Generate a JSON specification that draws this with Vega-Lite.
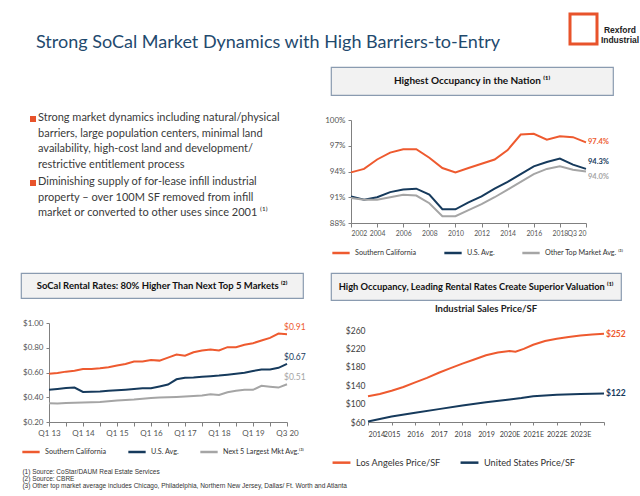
{
  "$schema": "https://vega.github.io/schema/vega-lite/v6.json",
  "background": "white",
  "padding": {"left": 20, "top": 12, "right": 0, "bottom": 0},
  "config": {
    "font": "Lato",
    "view": {"stroke": null},
    "axis": {"labelFont": "Lato", "labelColor": "#555555", "labelFontSize": 8, "domainColor": "#808080", "tickColor": "#808080", "grid": false, "title": null, "tickSize": 3, "labelPadding": 3, "labelOverlap": false},
    "legend": {"orient": "bottom", "direction": "horizontal", "title": null, "symbolType": "stroke", "symbolSize": 300, "symbolStrokeWidth": 2.5, "labelFontSize": 7.2, "labelColor": "#333333", "columnPadding": 16, "labelFont": "Lato"},
    "title": {"font": "Lato"}
  },
  "datasets": {
    "occ": [
      {"year": 2002, "series": "Southern California", "value": 93.9},
      {"year": 2003, "series": "Southern California", "value": 94.3},
      {"year": 2004, "series": "Southern California", "value": 95.4},
      {"year": 2005, "series": "Southern California", "value": 96.2},
      {"year": 2006, "series": "Southern California", "value": 96.6},
      {"year": 2007, "series": "Southern California", "value": 96.6},
      {"year": 2008, "series": "Southern California", "value": 95.6},
      {"year": 2009, "series": "Southern California", "value": 94.4},
      {"year": 2010, "series": "Southern California", "value": 93.9},
      {"year": 2011, "series": "Southern California", "value": 94.4},
      {"year": 2012, "series": "Southern California", "value": 94.9},
      {"year": 2013, "series": "Southern California", "value": 95.4},
      {"year": 2014, "series": "Southern California", "value": 96.5},
      {"year": 2015, "series": "Southern California", "value": 98.3},
      {"year": 2016, "series": "Southern California", "value": 98.4},
      {"year": 2017, "series": "Southern California", "value": 97.7},
      {"year": 2018, "series": "Southern California", "value": 98.1},
      {"year": 2019, "series": "Southern California", "value": 98.0},
      {"year": 2020, "series": "Southern California", "value": 97.4},
      {"year": 2002, "series": "U.S. Avg.", "value": 91.1},
      {"year": 2003, "series": "U.S. Avg.", "value": 90.7},
      {"year": 2004, "series": "U.S. Avg.", "value": 91.0},
      {"year": 2005, "series": "U.S. Avg.", "value": 91.6},
      {"year": 2006, "series": "U.S. Avg.", "value": 91.9},
      {"year": 2007, "series": "U.S. Avg.", "value": 92.0},
      {"year": 2008, "series": "U.S. Avg.", "value": 91.3},
      {"year": 2009, "series": "U.S. Avg.", "value": 89.6},
      {"year": 2010, "series": "U.S. Avg.", "value": 89.6},
      {"year": 2011, "series": "U.S. Avg.", "value": 90.4},
      {"year": 2012, "series": "U.S. Avg.", "value": 91.1},
      {"year": 2013, "series": "U.S. Avg.", "value": 92.0},
      {"year": 2014, "series": "U.S. Avg.", "value": 92.8},
      {"year": 2015, "series": "U.S. Avg.", "value": 93.7},
      {"year": 2016, "series": "U.S. Avg.", "value": 94.6},
      {"year": 2017, "series": "U.S. Avg.", "value": 95.1},
      {"year": 2018, "series": "U.S. Avg.", "value": 95.5},
      {"year": 2019, "series": "U.S. Avg.", "value": 94.8},
      {"year": 2020, "series": "U.S. Avg.", "value": 94.3},
      {"year": 2002, "series": "Other Top Market Avg.", "value": 90.9},
      {"year": 2003, "series": "Other Top Market Avg.", "value": 90.7},
      {"year": 2004, "series": "Other Top Market Avg.", "value": 90.7},
      {"year": 2005, "series": "Other Top Market Avg.", "value": 91.0},
      {"year": 2006, "series": "Other Top Market Avg.", "value": 91.3},
      {"year": 2007, "series": "Other Top Market Avg.", "value": 91.2},
      {"year": 2008, "series": "Other Top Market Avg.", "value": 90.3},
      {"year": 2009, "series": "Other Top Market Avg.", "value": 88.8},
      {"year": 2010, "series": "Other Top Market Avg.", "value": 88.8},
      {"year": 2011, "series": "Other Top Market Avg.", "value": 89.5},
      {"year": 2012, "series": "Other Top Market Avg.", "value": 90.2},
      {"year": 2013, "series": "Other Top Market Avg.", "value": 91.0},
      {"year": 2014, "series": "Other Top Market Avg.", "value": 91.9},
      {"year": 2015, "series": "Other Top Market Avg.", "value": 92.8},
      {"year": 2016, "series": "Other Top Market Avg.", "value": 93.7},
      {"year": 2017, "series": "Other Top Market Avg.", "value": 94.3},
      {"year": 2018, "series": "Other Top Market Avg.", "value": 94.6},
      {"year": 2019, "series": "Other Top Market Avg.", "value": 94.2},
      {"year": 2020, "series": "Other Top Market Avg.", "value": 94.0}
    ],
    "rent": [
      {"period": "Q1 13", "series": "Southern California", "value": 0.59},
      {"period": "Q2 13", "series": "Southern California", "value": 0.596},
      {"period": "Q3 13", "series": "Southern California", "value": 0.607},
      {"period": "Q4 13", "series": "Southern California", "value": 0.615},
      {"period": "Q1 14", "series": "Southern California", "value": 0.628},
      {"period": "Q2 14", "series": "Southern California", "value": 0.628},
      {"period": "Q3 14", "series": "Southern California", "value": 0.634},
      {"period": "Q4 14", "series": "Southern California", "value": 0.642},
      {"period": "Q1 15", "series": "Southern California", "value": 0.656},
      {"period": "Q2 15", "series": "Southern California", "value": 0.669},
      {"period": "Q3 15", "series": "Southern California", "value": 0.688},
      {"period": "Q4 15", "series": "Southern California", "value": 0.688},
      {"period": "Q1 16", "series": "Southern California", "value": 0.70},
      {"period": "Q2 16", "series": "Southern California", "value": 0.696},
      {"period": "Q3 16", "series": "Southern California", "value": 0.72},
      {"period": "Q4 16", "series": "Southern California", "value": 0.745},
      {"period": "Q1 17", "series": "Southern California", "value": 0.735},
      {"period": "Q2 17", "series": "Southern California", "value": 0.764},
      {"period": "Q3 17", "series": "Southern California", "value": 0.778},
      {"period": "Q4 17", "series": "Southern California", "value": 0.786},
      {"period": "Q1 18", "series": "Southern California", "value": 0.778},
      {"period": "Q2 18", "series": "Southern California", "value": 0.805},
      {"period": "Q3 18", "series": "Southern California", "value": 0.805},
      {"period": "Q4 18", "series": "Southern California", "value": 0.824},
      {"period": "Q1 19", "series": "Southern California", "value": 0.837},
      {"period": "Q2 19", "series": "Southern California", "value": 0.859},
      {"period": "Q4 19", "series": "Southern California", "value": 0.88},
      {"period": "Q2 20", "series": "Southern California", "value": 0.915},
      {"period": "Q3 20", "series": "Southern California", "value": 0.91},
      {"period": "Q1 13", "series": "U.S. Avg.", "value": 0.46},
      {"period": "Q2 13", "series": "U.S. Avg.", "value": 0.467},
      {"period": "Q3 13", "series": "U.S. Avg.", "value": 0.475},
      {"period": "Q4 13", "series": "U.S. Avg.", "value": 0.478},
      {"period": "Q1 14", "series": "U.S. Avg.", "value": 0.443},
      {"period": "Q2 14", "series": "U.S. Avg.", "value": 0.445},
      {"period": "Q3 14", "series": "U.S. Avg.", "value": 0.447},
      {"period": "Q4 14", "series": "U.S. Avg.", "value": 0.452},
      {"period": "Q1 15", "series": "U.S. Avg.", "value": 0.456},
      {"period": "Q2 15", "series": "U.S. Avg.", "value": 0.461},
      {"period": "Q3 15", "series": "U.S. Avg.", "value": 0.466},
      {"period": "Q4 15", "series": "U.S. Avg.", "value": 0.472},
      {"period": "Q1 16", "series": "U.S. Avg.", "value": 0.472},
      {"period": "Q2 16", "series": "U.S. Avg.", "value": 0.487},
      {"period": "Q3 16", "series": "U.S. Avg.", "value": 0.503},
      {"period": "Q4 16", "series": "U.S. Avg.", "value": 0.545},
      {"period": "Q1 17", "series": "U.S. Avg.", "value": 0.557},
      {"period": "Q2 17", "series": "U.S. Avg.", "value": 0.56},
      {"period": "Q3 17", "series": "U.S. Avg.", "value": 0.565},
      {"period": "Q4 17", "series": "U.S. Avg.", "value": 0.57},
      {"period": "Q1 18", "series": "U.S. Avg.", "value": 0.575},
      {"period": "Q2 18", "series": "U.S. Avg.", "value": 0.582},
      {"period": "Q3 18", "series": "U.S. Avg.", "value": 0.59},
      {"period": "Q4 18", "series": "U.S. Avg.", "value": 0.598},
      {"period": "Q1 19", "series": "U.S. Avg.", "value": 0.612},
      {"period": "Q2 19", "series": "U.S. Avg.", "value": 0.625},
      {"period": "Q4 19", "series": "U.S. Avg.", "value": 0.625},
      {"period": "Q2 20", "series": "U.S. Avg.", "value": 0.638},
      {"period": "Q3 20", "series": "U.S. Avg.", "value": 0.67},
      {"period": "Q1 13", "series": "Next 5 Largest Mkt Avg.", "value": 0.352},
      {"period": "Q2 13", "series": "Next 5 Largest Mkt Avg.", "value": 0.35},
      {"period": "Q3 13", "series": "Next 5 Largest Mkt Avg.", "value": 0.353},
      {"period": "Q4 13", "series": "Next 5 Largest Mkt Avg.", "value": 0.356},
      {"period": "Q1 14", "series": "Next 5 Largest Mkt Avg.", "value": 0.358},
      {"period": "Q2 14", "series": "Next 5 Largest Mkt Avg.", "value": 0.36},
      {"period": "Q3 14", "series": "Next 5 Largest Mkt Avg.", "value": 0.362},
      {"period": "Q4 14", "series": "Next 5 Largest Mkt Avg.", "value": 0.368},
      {"period": "Q1 15", "series": "Next 5 Largest Mkt Avg.", "value": 0.374},
      {"period": "Q2 15", "series": "Next 5 Largest Mkt Avg.", "value": 0.378},
      {"period": "Q3 15", "series": "Next 5 Largest Mkt Avg.", "value": 0.382},
      {"period": "Q4 15", "series": "Next 5 Largest Mkt Avg.", "value": 0.388},
      {"period": "Q1 16", "series": "Next 5 Largest Mkt Avg.", "value": 0.393},
      {"period": "Q2 16", "series": "Next 5 Largest Mkt Avg.", "value": 0.397},
      {"period": "Q3 16", "series": "Next 5 Largest Mkt Avg.", "value": 0.40},
      {"period": "Q4 16", "series": "Next 5 Largest Mkt Avg.", "value": 0.403},
      {"period": "Q1 17", "series": "Next 5 Largest Mkt Avg.", "value": 0.406},
      {"period": "Q2 17", "series": "Next 5 Largest Mkt Avg.", "value": 0.41},
      {"period": "Q3 17", "series": "Next 5 Largest Mkt Avg.", "value": 0.415},
      {"period": "Q4 17", "series": "Next 5 Largest Mkt Avg.", "value": 0.425},
      {"period": "Q1 18", "series": "Next 5 Largest Mkt Avg.", "value": 0.418},
      {"period": "Q2 18", "series": "Next 5 Largest Mkt Avg.", "value": 0.44},
      {"period": "Q3 18", "series": "Next 5 Largest Mkt Avg.", "value": 0.452},
      {"period": "Q4 18", "series": "Next 5 Largest Mkt Avg.", "value": 0.46},
      {"period": "Q1 19", "series": "Next 5 Largest Mkt Avg.", "value": 0.46},
      {"period": "Q2 19", "series": "Next 5 Largest Mkt Avg.", "value": 0.492},
      {"period": "Q4 19", "series": "Next 5 Largest Mkt Avg.", "value": 0.485},
      {"period": "Q2 20", "series": "Next 5 Largest Mkt Avg.", "value": 0.478},
      {"period": "Q3 20", "series": "Next 5 Largest Mkt Avg.", "value": 0.505}
    ],
    "sales": [
      {"year": 2014, "series": "Los Angeles Price/SF", "value": 116},
      {"year": 2014.5, "series": "Los Angeles Price/SF", "value": 121},
      {"year": 2015, "series": "Los Angeles Price/SF", "value": 128},
      {"year": 2015.5, "series": "Los Angeles Price/SF", "value": 136},
      {"year": 2016, "series": "Los Angeles Price/SF", "value": 146},
      {"year": 2016.5, "series": "Los Angeles Price/SF", "value": 156},
      {"year": 2017, "series": "Los Angeles Price/SF", "value": 167},
      {"year": 2017.5, "series": "Los Angeles Price/SF", "value": 177},
      {"year": 2018, "series": "Los Angeles Price/SF", "value": 187},
      {"year": 2018.5, "series": "Los Angeles Price/SF", "value": 196},
      {"year": 2019, "series": "Los Angeles Price/SF", "value": 205},
      {"year": 2019.5, "series": "Los Angeles Price/SF", "value": 211},
      {"year": 2020, "series": "Los Angeles Price/SF", "value": 214.5},
      {"year": 2020.25, "series": "Los Angeles Price/SF", "value": 213},
      {"year": 2020.6, "series": "Los Angeles Price/SF", "value": 219},
      {"year": 2021, "series": "Los Angeles Price/SF", "value": 228},
      {"year": 2021.5, "series": "Los Angeles Price/SF", "value": 236},
      {"year": 2022, "series": "Los Angeles Price/SF", "value": 241},
      {"year": 2022.5, "series": "Los Angeles Price/SF", "value": 245},
      {"year": 2023, "series": "Los Angeles Price/SF", "value": 248},
      {"year": 2023.5, "series": "Los Angeles Price/SF", "value": 250},
      {"year": 2024, "series": "Los Angeles Price/SF", "value": 252},
      {"year": 2014, "series": "United States Price/SF", "value": 61},
      {"year": 2015, "series": "United States Price/SF", "value": 72},
      {"year": 2016, "series": "United States Price/SF", "value": 80},
      {"year": 2017, "series": "United States Price/SF", "value": 88},
      {"year": 2018, "series": "United States Price/SF", "value": 96},
      {"year": 2019, "series": "United States Price/SF", "value": 103},
      {"year": 2020, "series": "United States Price/SF", "value": 109},
      {"year": 2020.5, "series": "United States Price/SF", "value": 112},
      {"year": 2021, "series": "United States Price/SF", "value": 116},
      {"year": 2022, "series": "United States Price/SF", "value": 119.5},
      {"year": 2023, "series": "United States Price/SF", "value": 121},
      {"year": 2024, "series": "United States Price/SF", "value": 122}
    ],
    "bullets": [
      {"para": 1, "text": "Strong market dynamics including natural/physical\nbarriers, large population centers, minimal land\navailability, high-cost land and development/\nrestrictive entitlement process"},
      {"para": 2, "text": "Diminishing supply of for-lease infill industrial\nproperty – over 100M SF removed from infill\nmarket or converted to other uses since 2001 ⁽¹⁾"}
    ]
  },
  "spacing": 14,
  "resolve": {"scale": {"color": "independent"}, "legend": {"color": "independent"}},
  "vconcat": [
    {
      "spacing": 0,
      "hconcat": [
        {
          "width": 547, "height": 18,
          "title": {"text": "Strong SoCal Market Dynamics with High Barriers-to-Entry", "orient": "bottom", "anchor": "start", "dx": 15, "fontSize": 18, "fontWeight": "normal", "color": "#1F4A6E", "offset": 2},
          "data": {"values": []},
          "mark": {"type": "rule"},
          "encoding": {}
        },
        {
          "width": 27, "height": 30,
          "view": {"stroke": "#E8532B", "strokeWidth": 3},
          "data": {"values": []},
          "mark": {"type": "rule"},
          "encoding": {}
        },
        {
          "width": 42, "height": 31,
          "data": {"values": [{"t": "Rexford\nIndustrial"}]},
          "mark": {"type": "text", "lineBreak": "\n", "lineHeight": 10, "fontSize": 8.5, "fontWeight": "bold", "font": "Liberation Sans Narrow, Liberation Sans", "color": "#222222"},
          "encoding": {"text": {"field": "t"}}
        }
      ]
    },
    {
      "spacing": 13,
      "resolve": {"scale": {"color": "independent"}, "legend": {"color": "independent"}},
      "hconcat": [
        {
          "width": 290, "height": 154,
          "data": {"name": "bullets"},
          "encoding": {"y": {"field": "para", "type": "ordinal", "axis": null, "scale": {"type": "point", "padding": 0.703}}},
          "layer": [
            {
              "mark": {"type": "square", "size": 36, "color": "#E8532B", "opacity": 1, "filled": true, "yOffset": 7},
              "encoding": {"x": {"value": 12}}
            },
            {
              "mark": {"type": "text", "align": "left", "baseline": "top", "lineBreak": "\n", "lineHeight": 15.7, "fontSize": 11, "color": "#3A3A3A", "font": "Lato"},
              "encoding": {"x": {"value": 17}, "text": {"field": "text"}}
            }
          ]
        },
        {
          "spacing": 20,
          "resolve": {"scale": {"color": "independent"}, "legend": {"color": "independent"}},
          "vconcat": [
            {
              "width": 282, "height": 28,
              "view": {"fill": "#F2F2F2", "stroke": "#8A9BB0", "strokeWidth": 1.2},
              "data": {"values": [{"t": "Highest Occupancy in the Nation ⁽¹⁾"}]},
              "mark": {"type": "text", "fontWeight": "bold", "fontSize": 10, "color": "#111111"},
              "encoding": {"text": {"field": "t"}}
            },
            {
              "spacing": -8,
              "hconcat": [
                {"width": 1, "height": 1, "data": {"values": []}, "mark": {"type": "rule"}, "encoding": {}},
                {
                  "width": 235, "height": 103,
                  "data": {"name": "occ"},
                  "transform": [{"calculate": "format(datum.value, '.1f') + '%'", "as": "label"}],
                  "encoding": {
                    "x": {"field": "year", "type": "quantitative", "scale": {"domain": [2002, 2020], "nice": false}, "axis": {"values": [2002, 2004, 2006, 2008, 2010, 2012, 2014, 2016, 2018, 2020], "labelExpr": "datum.value == 2020 ? 'Q3 20' : '' + datum.value", "tickSize": 4, "labelFontSize": 6.8}},
                    "y": {"field": "value", "type": "quantitative", "scale": {"domain": [88, 100], "nice": false, "zero": false}, "axis": {"values": [88, 91, 94, 97, 100], "labelExpr": "datum.value + '%'"}},
                    "color": {"field": "series", "type": "nominal", "scale": {"domain": ["Southern California", "U.S. Avg.", "Other Top Market Avg."], "range": ["#EE5A2F", "#163A5C", "#A5A5A5"]}, "legend": {"labelExpr": "datum.label == 'Other Top Market Avg.' ? datum.label + ' ⁽³⁾' : datum.label", "offset": 6, "columnPadding": 22}}
                  },
                  "layer": [
                    {"mark": {"type": "line", "strokeWidth": 2}},
                    {"transform": [{"filter": "datum.year == 2020 && datum.series == 'Southern California'"}], "mark": {"type": "text", "align": "left", "dx": 2, "fontSize": 7.5, "fontWeight": "bold"}, "encoding": {"text": {"field": "label"}}},
                    {"transform": [{"filter": "datum.year == 2020 && datum.series == 'U.S. Avg.'"}], "mark": {"type": "text", "align": "left", "dx": 2, "dy": -7, "fontSize": 7.5, "fontWeight": "bold"}, "encoding": {"text": {"field": "label"}}},
                    {"transform": [{"filter": "datum.year == 2020 && datum.series == 'Other Top Market Avg.'"}], "mark": {"type": "text", "align": "left", "dx": 2, "dy": 5, "fontSize": 7.5, "fontWeight": "bold"}, "encoding": {"text": {"field": "label"}}}
                  ]
                }
              ]
            }
          ]
        }
      ]
    },
    {
      "spacing": 24,
      "title": {"text": ["(1)    Source: CoStar/DAUM Real Estate Services", "(2)    Source: CBRE", "(3)    Other top market average includes Chicago, Philadelphia, Northern New Jersey, Dallas/ Ft. Worth and Atlanta"], "orient": "bottom", "anchor": "start", "frame": "bounds", "fontSize": 6.5, "fontWeight": "normal", "font": "Liberation Sans", "color": "#333333", "lineHeight": 7, "offset": 1, "dx": 2},
      "resolve": {"scale": {"color": "independent"}, "legend": {"color": "independent"}},
      "hconcat": [
        {
          "spacing": 20,
          "resolve": {"scale": {"color": "independent"}, "legend": {"color": "independent"}},
          "vconcat": [
            {
              "width": 282, "height": 25,
              "view": {"fill": "#F2F2F2", "stroke": "#8A9BB0", "strokeWidth": 1.2},
              "data": {"values": [{"t": "SoCal Rental Rates: 80% Higher Than Next Top 5 Markets ⁽²⁾"}]},
              "mark": {"type": "text", "fontWeight": "bold", "fontSize": 9.5, "color": "#111111"},
              "encoding": {"text": {"field": "t"}}
            },
            {
              "spacing": 0,
              "hconcat": [
                {"width": 1, "height": 1, "data": {"values": []}, "mark": {"type": "rule"}, "encoding": {}},
                {
                  "width": 238, "height": 99,
                  "data": {"name": "rent"},
                  "encoding": {
                    "x": {"field": "period", "type": "ordinal", "sort": null, "scale": {"type": "point", "padding": 0}, "axis": {"values": ["Q1 13", "Q3 13", "Q1 14", "Q3 14", "Q1 15", "Q3 15", "Q1 16", "Q3 16", "Q1 17", "Q3 17", "Q1 18", "Q3 18", "Q1 19", "Q4 19", "Q3 20"], "labelExpr": "(slice(datum.value, 0, 2) == 'Q1' || datum.value == 'Q3 20') ? datum.value : ''", "labelAngle": 0, "tickSize": 4}},
                    "y": {"field": "value", "type": "quantitative", "scale": {"domain": [0.2, 1.0], "nice": false, "zero": false}, "axis": {"values": [0.2, 0.4, 0.6, 0.8, 1.0], "format": "$.2f"}},
                    "color": {"field": "series", "type": "nominal", "scale": {"domain": ["Southern California", "U.S. Avg.", "Next 5 Largest Mkt Avg."], "range": ["#EE5A2F", "#163A5C", "#A5A5A5"]}, "legend": {"labelExpr": "datum.label == 'Next 5 Largest Mkt Avg.' ? datum.label + '⁽³⁾' : datum.label", "offset": 5}}
                  },
                  "layer": [
                    {"mark": {"type": "line", "strokeWidth": 2}},
                    {"transform": [{"filter": "datum.period == 'Q3 20'"}], "mark": {"type": "text", "align": "left", "dx": -3, "dy": -7, "fontSize": 8.5}, "encoding": {"text": {"field": "value", "format": "$.2f"}}}
                  ]
                }
              ]
            }
          ]
        },
        {
          "spacing": 2,
          "resolve": {"scale": {"color": "independent"}, "legend": {"color": "independent"}},
          "vconcat": [
            {
              "width": 290, "height": 27,
              "view": {"fill": "#F2F2F2", "stroke": "#8A9BB0", "strokeWidth": 1.2},
              "data": {"values": [{"t": "High Occupancy, Leading Rental Rates Create Superior Valuation ⁽¹⁾"}]},
              "mark": {"type": "text", "fontWeight": "bold", "fontSize": 9.3, "color": "#111111"},
              "encoding": {"text": {"field": "t"}}
            },
            {
              "spacing": 13,
              "hconcat": [
                {"width": 1, "height": 1, "data": {"values": []}, "mark": {"type": "rule"}, "encoding": {}},
                {
                  "width": 236, "height": 92,
                  "title": {"text": "Industrial Sales Price/SF", "fontSize": 9.5, "fontWeight": "bold", "color": "#222222", "anchor": "middle", "offset": 13},
                  "data": {"name": "sales"},
                  "encoding": {
                    "x": {"field": "year", "type": "quantitative", "scale": {"domain": [2014, 2024], "nice": false}, "axis": {"values": [2014, 2015, 2016, 2017, 2018, 2019, 2020, 2021, 2022, 2023, 2024], "labelExpr": "datum.value >= 2024 ? '' : (datum.value >= 2020 ? datum.value + 'E' : '' + datum.value)", "labelColor": "#404040", "labelFontSize": 7.2, "labelPadding": 5}},
                    "y": {"field": "value", "type": "quantitative", "scale": {"domain": [60, 260], "nice": false, "zero": false}, "axis": {"values": [60, 100, 140, 180, 220, 260], "labelExpr": "'$' + datum.value", "domain": false, "ticks": false, "labelColor": "#404040", "labelFontSize": 8.5}},
                    "color": {"field": "series", "type": "nominal", "scale": {"domain": ["Los Angeles Price/SF", "United States Price/SF"], "range": ["#EE5A2F", "#163A5C"]}, "legend": {"labelFontSize": 9.2, "symbolSize": 320, "columnPadding": 14, "offset": 14}}
                  },
                  "layer": [
                    {"mark": {"type": "line", "strokeWidth": 2}},
                    {"transform": [{"filter": "datum.year == 2024"}], "mark": {"type": "text", "align": "left", "dx": 2, "fontSize": 8.5, "fontWeight": "bold"}, "encoding": {"text": {"field": "value", "format": "$d"}}}
                  ]
                }
              ]
            }
          ]
        }
      ]
    },
    {
      "width": 600, "height": 1,
      "data": {"values": []},
      "mark": {"type": "rule"},
      "encoding": {}
    }
  ]
}
